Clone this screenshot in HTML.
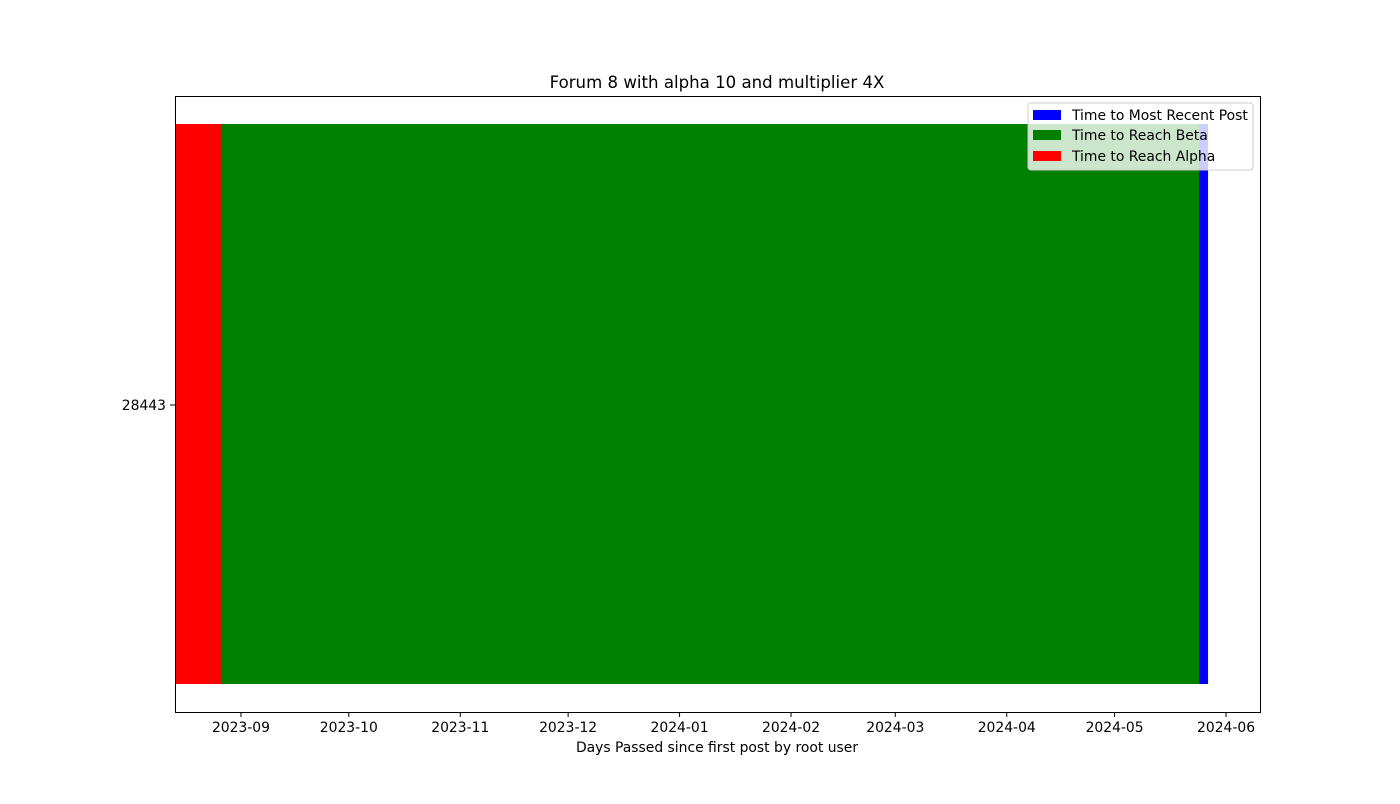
<!DOCTYPE html>
<html><head><meta charset="utf-8"><style>
body{margin:0;background:#fff;font-family:"DejaVu Sans","Liberation Sans",sans-serif;}
</style></head><body>
<svg id="chart" width="1400" height="800" xmlns="http://www.w3.org/2000/svg" font-family="DejaVu Sans, Liberation Sans, sans-serif">
<rect width="1400" height="800" fill="#fff"/>
<text x="717" y="88" text-anchor="middle" font-size="16.6">Forum 8 with alpha 10 and multiplier 4X</text>
<g id="bars"></g>
<rect x="175.5" y="96.5" width="1085" height="616" fill="none" stroke="#000" stroke-width="1"/>
<g id="xticks" font-size="13.9"></g>
<line x1="170" y1="405" x2="175" y2="405" stroke="#000"/>
<text x="166" y="410" text-anchor="end" font-size="13.9">28443</text>
<text x="717" y="752" text-anchor="middle" font-size="13.9">Days Passed since first post by root user</text>
<g>
<rect x="1028" y="103" width="225" height="67" fill="#fff" fill-opacity="0.8" stroke="#ccc" rx="3"/>
<rect x="1033" y="110" width="28" height="10" fill="#0000ff"/>
<text x="1072" y="120" font-size="13.9">Time to Most Recent Post</text>
<rect x="1033" y="130" width="28" height="10" fill="#008000"/>
<text x="1072" y="140" font-size="13.9">Time to Reach Beta</text>
<rect x="1033" y="151" width="28" height="10" fill="#ff0000"/>
<text x="1072" y="161" font-size="13.9">Time to Reach Alpha</text>
</g>
</svg>
<script>
const users = ["28443"];
const startDates = ["2023-08-13T19:00:00Z"];
const alphaDates = ["2023-08-26T10:00:00Z"];
const betaDates = ["2024-05-24T12:00:00Z"];
const recentDates = ["2024-05-27T00:00:00Z"];
const tickLabels = ["2023-09","2023-10","2023-11","2023-12","2024-01","2024-02","2024-03","2024-04","2024-05","2024-06"];
const xMin = "2023-08-13T19:00:00Z", xMax = "2024-06-10T14:00:00Z";
const NS="http://www.w3.org/2000/svg";
const d=s=>Date.parse(s.length===7?s+"-01T00:00:00Z":s)/86400000;
const x0=175.5,x1=1260.5;
const xs=v=>x0+(d(v)-d(xMin))/(d(xMax)-d(xMin))*(x1-x0);
const bars=document.getElementById('bars');
function rect(a,b,col,name){const r=document.createElementNS(NS,'rect');
r.setAttribute('x',xs(a));r.setAttribute('width',xs(b)-xs(a));
r.setAttribute('y',124);r.setAttribute('height',560);r.setAttribute('fill',col);


bars.appendChild(r);}
users.forEach((u,i)=>{
rect(startDates[i],recentDates[i],'#0000ff','bar-recent');
rect(startDates[i],betaDates[i],'#008000','bar-beta');
rect(startDates[i],alphaDates[i],'#ff0000','bar-alpha');
});
const xt=document.getElementById('xticks');
tickLabels.forEach(t=>{const x=xs(t);
const l=document.createElementNS(NS,'line');l.setAttribute('x1',x);l.setAttribute('x2',x);l.setAttribute('y1',712.5);l.setAttribute('y2',717);l.setAttribute('stroke','#000');


xt.appendChild(l);
const tx=document.createElementNS(NS,'text');tx.setAttribute('x',x);tx.setAttribute('y',732);tx.setAttribute('text-anchor','middle');tx.textContent=t;


xt.appendChild(tx);});
</script>
</body></html>
